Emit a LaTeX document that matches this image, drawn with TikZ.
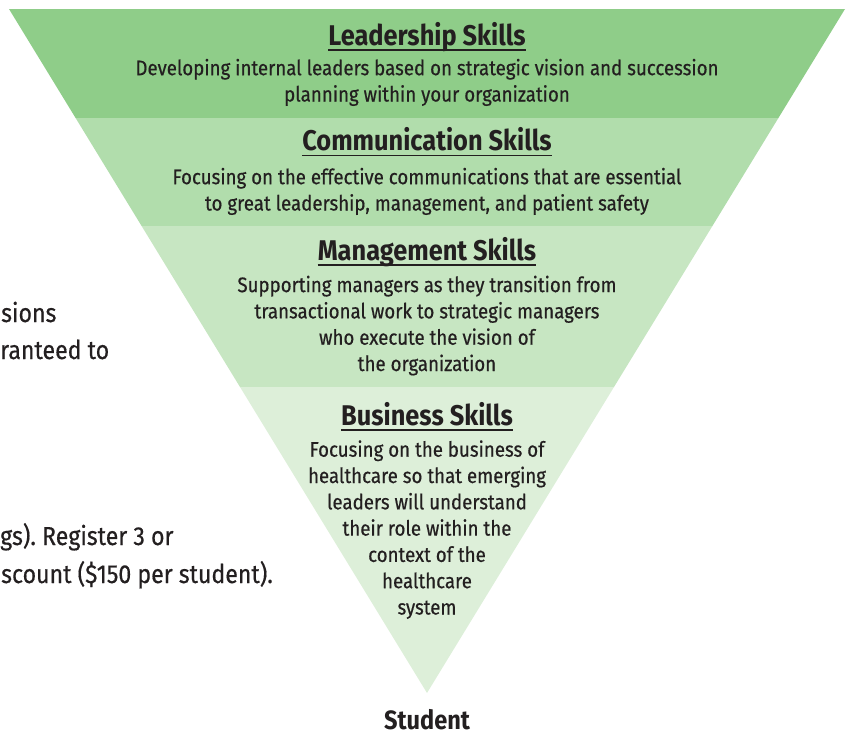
\documentclass[tikz,border=0pt]{standalone}
\usepackage{fontspec}
\setmainfont{Fira Sans}[FakeStretch=0.89,UprightFeatures={FakeBold=0.5}]
\definecolor{inkgray}{HTML}{231F20}
\definecolor{leadgreen}{HTML}{8FCD89}
\definecolor{commgreen}{HTML}{B1DDAC}
\definecolor{mgmtgreen}{HTML}{C7E6C2}
\definecolor{busgreen}{HTML}{DDEFD9}
\frenchspacing

\begin{document}
\begin{tikzpicture}[x=1pt,y=-1pt,
	skill/.style={font=\fontsize{28.5}{30}\selectfont\bfseries,text=inkgray,inner sep=0pt,anchor=base},
	blurb/.style={font=\fontsize{21}{26.3}\selectfont,text=inkgray,inner sep=0pt,align=center,anchor=base},
	aside/.style={font=\fontsize{26}{30}\selectfont,text=inkgray,inner sep=0pt,anchor=base west},
	rule/.style={draw=inkgray,line width=1.4pt}]
	\useasboundingbox (0,0) rectangle (848,736);
	% the four bands of the funnel
	\fill[leadgreen] (9,9) -- (845,9) -- (778.4,118) -- (75.6,118) -- cycle;
	\fill[commgreen] (75.6,118) -- (778.4,118) -- (712.4,226) -- (141.6,226) -- cycle;
	\fill[mgmtgreen] (141.6,226) -- (712.4,226) -- (614,387) -- (240,387) -- cycle;
	\fill[busgreen] (240,387) -- (614,387) -- (427,693) -- cycle;

	% base of a blurb = baseline of its last line
	\node[skill] (lead) at (427,45) {Leadership Skills};
	\node[blurb] (leadtxt) at (427,101.5) {Developing internal leaders based on strategic vision and succession\\planning within your organization};
	\node[skill] (comm) at (427,150.5) {Communication Skills};
	\node[blurb] (commtxt) at (427,210.5) {Focusing on the effective communications that are essential\\to great leadership, management, and patient safety};
	\node[skill] (mgmt) at (427,260) {Management Skills};
	\node[blurb] (mgmttxt) at (427,371) {Supporting managers as they transition from\\transactional work to strategic managers\\who execute the vision of\\the organization};
	\node[skill] (bus) at (427,425) {Business Skills};
	\node[blurb] (bustxt) at (427,614.5) {Focusing on the business of\\healthcare so that emerging\\leaders will understand\\their role within the\\context of the\\healthcare\\system};
	\node[skill,font=\fontsize{26.5}{30}\selectfont\bfseries] (student) at (427,729) {Student};

	\foreach \t in {lead,comm,mgmt,bus}
		\draw[rule] ([yshift=-5pt]\t.base west) -- ([yshift=-5pt]\t.base east);

	% text of the page beside the funnel
	\node[aside] (sessions) at (1,322) {sions};
	\node[aside] (guaranteed) at (0,359) {ranteed to};
	\node[aside] (register) at (0,545) {gs). Register 3 or};
	\node[aside] (discount) at (1,583) {scount (\$150 per student).};
\end{tikzpicture}
\end{document}
